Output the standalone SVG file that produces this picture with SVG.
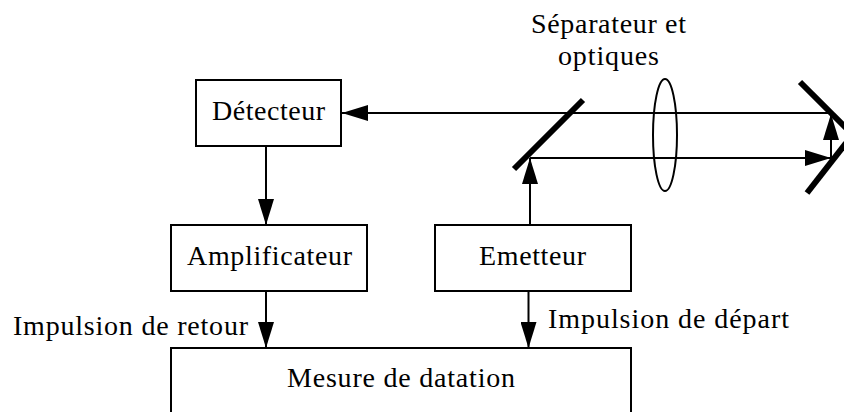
<svg xmlns="http://www.w3.org/2000/svg" width="844" height="412" viewBox="0 0 844 412">
<style>
text{font-family:"Liberation Serif","Times New Roman",serif;font-size:28px;fill:#000;text-anchor:middle}
.b{fill:#fff;stroke:#000;stroke-width:2}
.c{fill:none;stroke:#000;stroke-width:2}
.m{fill:none;stroke:#000;stroke-width:6}
</style>
<defs><marker id="a" markerUnits="userSpaceOnUse" markerWidth="26" markerHeight="16" refX="26" refY="8" orient="auto"><path d="M0 0L26 8L0 16Z" fill="#000"/></marker></defs>
<g id="connectors">
<path class="c" d="M831 113H342" marker-end="url(#a)"/>
<path class="c" d="M266 146V225" marker-end="url(#a)"/>
<path class="c" d="M266 291V348" marker-end="url(#a)"/>
<path class="c" d="M528.500 291V348" marker-end="url(#a)"/>
<path class="c" d="M530 225V158" marker-end="url(#a)"/>
<path class="c" d="M530 158H831" marker-end="url(#a)"/>
<path class="c" d="M831 158V114" marker-end="url(#a)"/>
</g>
<g id="splitter"><path class="m" d="M583 100L514 169"/></g>
<g id="lens"><ellipse class="c" cx="665" cy="135" rx="12" ry="56"/></g>
<g id="mirror"><path class="m" d="M800 82L846 128"/><path class="m" d="M807 193L846 143"/></g>
<g id="detecteur"><rect class="b" x="196" y="80" width="145" height="66"/><text x="268.500" y="120" textLength="113">Détecteur</text></g>
<g id="amplificateur"><rect class="b" x="171" y="225" width="196" height="66"/><text x="269.500" y="265" textLength="165">Amplificateur</text></g>
<g id="emetteur"><rect class="b" x="435" y="225" width="196" height="66"/><text x="532.500" y="265" textLength="107">Emetteur</text></g>
<g id="mesure"><rect class="b" x="171" y="348" width="460" height="70"/><text x="401" y="387" textLength="228">Mesure de datation</text></g>
<g id="labels">
<text x="130.500" y="335" textLength="235">Impulsion de retour</text>
<text x="668.500" y="328" textLength="241">Impulsion de départ</text>
<text x="608.500" y="33" textLength="155">Séparateur et</text>
<text x="608.500" y="65" textLength="101">optiques</text>
</g>
</svg>
